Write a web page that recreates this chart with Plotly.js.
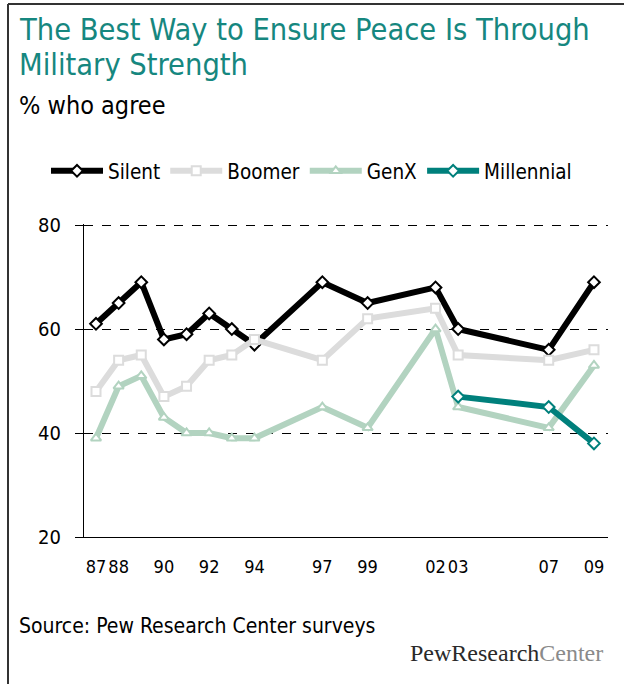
<!DOCTYPE html>
<html>
<head>
<meta charset="utf-8">
<script src="https://cdn.plot.ly/plotly-3.0.1.min.js"></script>
<style>html,body{margin:0;padding:0;background:#fff;}#chart{width:624px;height:684px;}</style>
</head>
<body>
<div id="chart"></div>
<script>
// Survey years
const years = [1987, 1988, 1989, 1990, 1991, 1992, 1993, 1994, 1997, 1999, 2002, 2003, 2007, 2009];
const silent = [61, 65, 69, 58, 59, 63, 60, 57, 69, 65, 68, 60, 56, 69];
const boomer = [48, 54, 55, 47, 49, 54, 55, 58, 54, 62, 64, 55, 54, 56];
const genx   = [39, 49, 51, 43, 40, 40, 39, 39, 45, 41, 60, 45, 41, 53];
const millYears = [2003, 2007, 2009];
const millennial = [47, 45, 38];
const tickYears = [1987, 1988, 1990, 1992, 1994, 1997, 1999, 2002, 2003, 2007, 2009];
const tickLabels = ['87', '88', '90', '92', '94', '97', '99', '02', '03', '07', '09'];
const yTicks = [20, 40, 60, 80];

const FONT = 'DejaVu Sans Condensed, Liberation Sans, sans-serif';
const L = 84, R = 608, T = 224, B = 537;
const W = R - L, H = B - T;
const px = v => (v - L) / W;
const py = v => (B - v) / H;

function tr(name, x, y, color, symbol, msize) {
  return {
    type: 'scatter', mode: 'lines+markers', name: name, x: x, y: y,
    line: {color: color, width: 6},
    marker: {symbol: symbol, size: msize, color: '#ffffff', line: {color: color, width: 2}},
    cliponaxis: false
  };
}

const data = [
  tr('Silent', years, silent, '#000000', 'diamond', 9),
  tr('Boomer', years, boomer, '#dcdcdc', 'square', 9),
  tr('GenX', years, genx, '#b2d3c0', 'triangle-up', 9),
  tr('Millennial', millYears, millennial, '#00807c', 'diamond', 9)
];

const layout = {
  width: 624, height: 684,
  margin: {l: L, r: 624 - R, t: T, b: 684 - B, pad: 0},
  paper_bgcolor: '#ffffff', plot_bgcolor: '#ffffff',
  font: {family: FONT, color: '#000000', size: 19},
  showlegend: true,
  legend: {
    orientation: 'h', x: px(46), y: py(171), xanchor: 'left', yanchor: 'middle',
    font: {family: FONT, size: 20.5, color: '#000000'},
    itemwidth: 52, tracegroupgap: 0, bgcolor: 'rgba(0,0,0,0)'
  },
  xaxis: {
    range: [1986.47, 2009.62], tickmode: 'array', tickvals: tickYears, ticktext: tickLabels,
    showgrid: false, zeroline: false, showline: true, linecolor: '#000000', linewidth: 1,
    ticks: 'outside', ticklen: 13, tickcolor: 'rgba(0,0,0,0)', tickangle: 0,
    tickfont: {family: FONT, size: 18, color: '#000000'}, fixedrange: true
  },
  yaxis: {
    range: [20, 80.2], tickmode: 'array', tickvals: yTicks,
    showgrid: true, gridcolor: '#000000', gridwidth: 1, griddash: 'dash',
    zeroline: false, showline: true, linecolor: '#000000', linewidth: 1,
    ticks: 'outside', ticklen: 8, tickcolor: '#000000', ticklabelstandoff: 10,
    tickfont: {family: FONT, size: 20, color: '#000000'}, fixedrange: true
  },
  shapes: [
    {type: 'line', xref: 'paper', yref: 'paper', x0: px(8), x1: px(8), y0: py(4), y1: py(684), line: {color: '#333333', width: 2}},
    {type: 'line', xref: 'paper', yref: 'paper', x0: px(8), x1: px(624), y0: py(4), y1: py(4), line: {color: '#333333', width: 2}}
  ],
  annotations: [
    {xref: 'paper', yref: 'paper', x: px(17), y: py(30), xanchor: 'left', yanchor: 'middle', align: 'left', showarrow: false,
     text: 'The Best Way to Ensure Peace Is Through', font: {family: FONT, size: 30.5, color: '#16877f'}},
    {xref: 'paper', yref: 'paper', x: px(17), y: py(65), xanchor: 'left', yanchor: 'middle', align: 'left', showarrow: false,
     text: 'Military Strength', font: {family: FONT, size: 30.5, color: '#16877f'}},
    {xref: 'paper', yref: 'paper', x: px(17), y: py(105), xanchor: 'left', yanchor: 'middle', align: 'left', showarrow: false,
     text: '% who agree', font: {family: FONT, size: 25, color: '#000000'}},
    {xref: 'paper', yref: 'paper', x: px(17), y: py(626), xanchor: 'left', yanchor: 'middle', align: 'left', showarrow: false,
     text: 'Source: Pew Research Center surveys', font: {family: FONT, size: 21, color: '#000000'}},
    {xref: 'paper', yref: 'paper', x: px(605), y: py(653), xanchor: 'right', yanchor: 'middle', align: 'right', showarrow: false,
     text: '<span style="color:#2a2a2a">PewResearch</span><span style="color:#8a8a8a">Center</span>', font: {family: 'Liberation Serif, DejaVu Serif, serif', size: 24, color: '#333333'}}
  ]
};

Plotly.newPlot('chart', data, layout, {displayModeBar: false, staticPlot: true});
</script>
</body>
</html>
